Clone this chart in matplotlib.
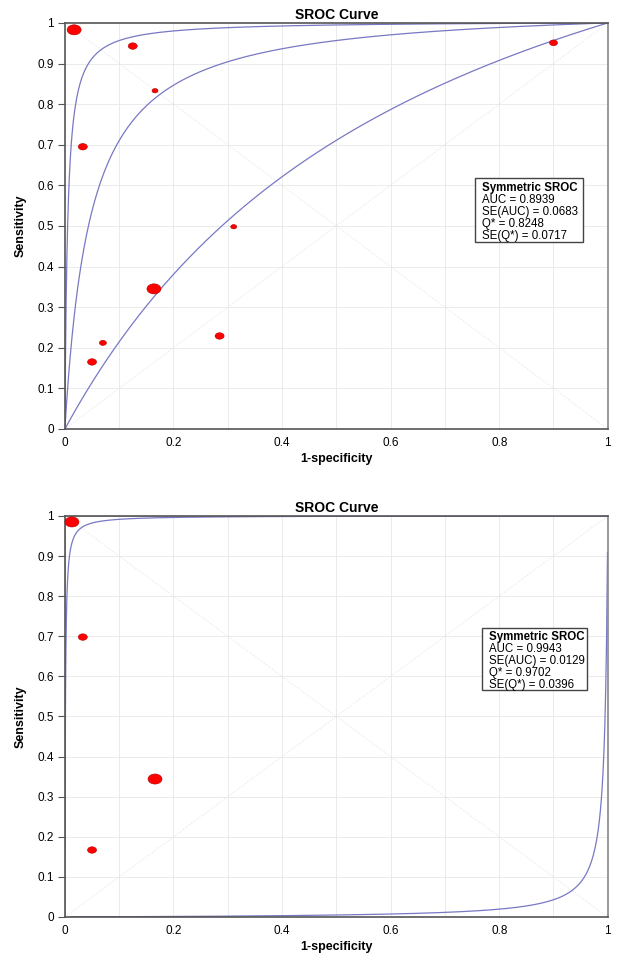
import matplotlib
matplotlib.use('Agg')
import matplotlib.pyplot as plt
import numpy as np
from matplotlib.path import Path
from matplotlib.transforms import Affine2D
from matplotlib.patches import Rectangle

plt.rcParams['font.family'] = ['Liberation Sans', 'DejaVu Sans']

# ========== data ==========
# top panel: all ten studies
fpr_top = [0.017, 0.125, 0.166, 0.033, 0.900, 0.311, 0.164, 0.285, 0.070, 0.050]
tpr_top = [0.983, 0.943, 0.833, 0.695, 0.951, 0.498, 0.345, 0.229, 0.212, 0.165]
w_top = [14, 9, 6, 9, 8, 6, 14, 9, 7, 9]

# bottom panel: four studies
fpr_bot = [0.013, 0.033, 0.166, 0.050]
tpr_bot = [0.985, 0.698, 0.344, 0.167]
w_bot = [14, 9, 14, 9]

# symmetric SROC parameter a (logit TPR = a + logit FPR): centre, lower, upper
a_top = [3.094, 0.90, 5.29]
a_bot = [6.966, -5.3, 19.2]
x_start_bot = [1e-9, 0.105, 1e-9]
x_end_bot = [1.0, 0.9995, 1.0]

stats_top = ['AUC = 0.8939', 'SE(AUC) = 0.0683', 'Q* = 0.8248', 'SE(Q*) = 0.0717']
stats_bot = ['AUC = 0.9943', 'SE(AUC) = 0.0129', 'Q* = 0.9702', 'SE(Q*) = 0.0396']

ticks = [0, 0.1, 0.2, 0.3, 0.4, 0.5, 0.6, 0.7, 0.8, 0.9, 1]
tick_labels_y = ['0', '0.1', '0.2', '0.3', '0.4', '0.5', '0.6', '0.7', '0.8', '0.9', '1']
xticks = [0, 0.2, 0.4, 0.6, 0.8, 1]
tick_labels_x = ['0', '0.2', '0.4', '0.6', '0.8', '1']

# elliptical marker (wider than tall)
ell = Path.unit_circle().transformed(Affine2D().scale(1.0, 0.72))


def sroc(x, a):
    lx = np.log(x / (1 - x))
    return 1 / (1 + np.exp(-(lx + a)))


def panel(ax, fpr, tpr, w, a_list, starts, ends, stats, box):
    ax.set_xlim(0, 1)
    ax.set_ylim(0, 1)
    for t in ticks[1:-1]:
        ax.axvline(t, color='#e8e8e8', lw=0.6, zorder=0)
        ax.axhline(t, color='#e8e8e8', lw=0.6, zorder=0)
    ax.plot([0, 1], [0, 1], ls=':', color='#e2e2e2', lw=0.7, zorder=1)
    ax.plot([0, 1], [1, 0], ls=':', color='#e2e2e2', lw=0.7, zorder=1)

    for a, s, e in zip(a_list, starts, ends):
        x = np.concatenate([np.geomspace(s, 0.01, 400), np.linspace(0.01, e, 600)])
        x = np.clip(x, 1e-12, 1 - 1e-12)
        y = sroc(x, a)
        if s < 1e-6:
            x = np.concatenate([[0], x])
            y = np.concatenate([[y[0] if a > 10 else 0], y])
        ax.plot(x, y, color='#7878c4', lw=0.9, zorder=2)

    # marker sizes read in pixels -> points
    ax.scatter(fpr, tpr, s=(np.array(w) * 0.72) ** 2, marker=ell, color='#ff0000',
               edgecolor='#b00000', linewidth=0.4, zorder=4, clip_on=False)

    ax.set_yticks(ticks)
    ax.set_yticklabels(tick_labels_y)
    ax.set_xticks(xticks)
    ax.set_xticklabels(tick_labels_x)
    ax.tick_params(axis='y', length=5, width=0.8, color='#555555', labelsize=8.5, pad=3)
    ax.tick_params(axis='x', length=0, labelsize=8.5, pad=6)
    for side in ['left', 'bottom', 'top']:
        ax.spines[side].set_color('#555555')
        ax.spines[side].set_linewidth(1.2)
    ax.spines['right'].set_color('#888888')
    ax.spines['right'].set_linewidth(1.2)

    ax.set_title('SROC Curve', fontsize=10, fontweight='bold', pad=3)
    ax.set_xlabel('1-specificity', fontsize=9, fontweight='bold', labelpad=3)
    ax.set_ylabel('Sensitivity', fontsize=9, fontweight='bold', labelpad=8)

    # stats box: one text per line, 12 px pitch
    x0, y0, bw, bh = box
    ax.add_patch(Rectangle((x0, y0), bw, bh, transform=ax.transAxes, facecolor='white',
                           edgecolor='#444444', lw=1.0, zorder=5))
    lines = ['Symmetric SROC'] + stats
    for i, line in enumerate(lines):
        ax.annotate(line, xy=(x0, y0 + bh), xycoords='axes fraction',
                    xytext=(5, -(3.5 + 12 * i) * 0.72), textcoords='offset points',
                    fontsize=8.3, fontweight='bold' if i == 0 else 'normal',
                    va='top', ha='left', zorder=6)


fig = plt.figure(figsize=(6.24, 9.59), dpi=100, facecolor='white')
ax1 = fig.add_axes([0.104, 0.5527, 0.870, 0.4234])
ax2 = fig.add_axes([0.104, 0.0438, 0.870, 0.4182])

panel(ax1, fpr_top, tpr_top, w_top, a_top, [1e-9, 1e-9, 1e-9], [1.0, 1.0, 1.0],
      stats_top, (0.755, 0.461, 0.199, 0.157))
panel(ax2, fpr_bot, tpr_bot, w_bot, a_bot, x_start_bot, x_end_bot,
      stats_bot, (0.768, 0.566, 0.193, 0.155))

fig.savefig('out.png', dpi=100, facecolor='white')
